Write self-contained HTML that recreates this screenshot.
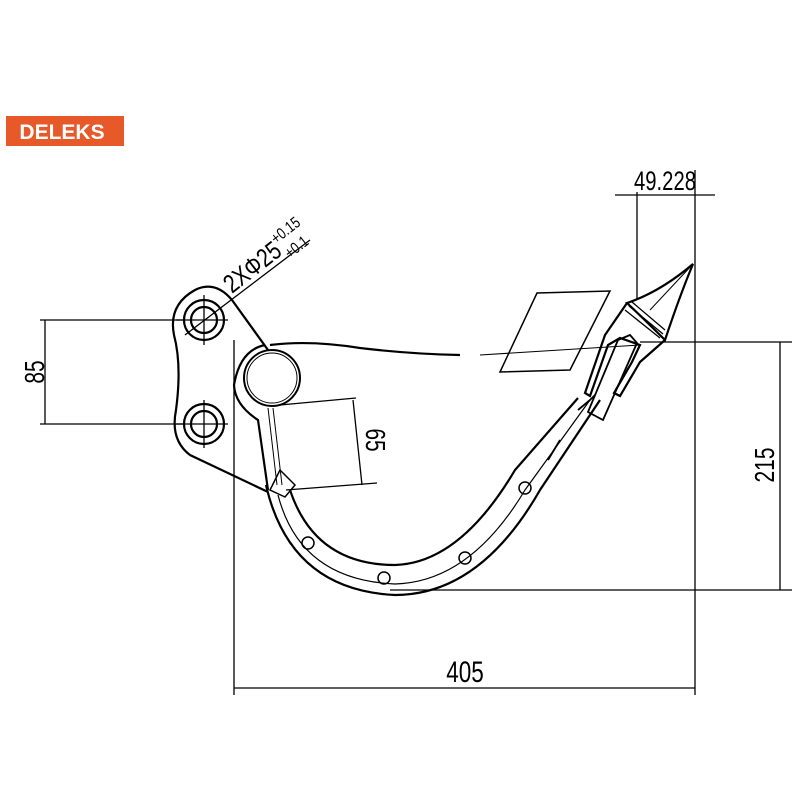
<!DOCTYPE html><html><head><style>body{margin:0;background:#fff}svg{display:block}</style></head><body>
<svg width="800" height="800" viewBox="0 0 800 800" xmlns="http://www.w3.org/2000/svg" font-family="Liberation Sans, sans-serif">
<rect x="6" y="116" width="118" height="30" fill="#e8592a"/>
<text x="62" y="139" font-size="21" font-weight="bold" fill="#fff" text-anchor="middle">DELEKS</text>
<g stroke="#000" fill="none" stroke-width="1.3">
<line x1="40" y1="320" x2="185" y2="320"/><line x1="40" y1="424" x2="185" y2="424"/><line x1="45" y1="320" x2="45" y2="424"/>
<line x1="204" y1="295" x2="204" y2="345"/><line x1="204" y1="400" x2="204" y2="448"/><line x1="176" y1="424" x2="228" y2="424"/><line x1="176" y1="320" x2="228" y2="320"/>
<line x1="234" y1="340" x2="234" y2="695"/><line x1="695" y1="170" x2="695" y2="695"/><line x1="234" y1="688" x2="695" y2="688"/>
<line x1="637" y1="192" x2="637" y2="300"/><line x1="615" y1="195" x2="715" y2="195"/>
<line x1="640" y1="342" x2="792" y2="342"/><line x1="390" y1="590" x2="792" y2="590"/><line x1="780" y1="342" x2="780" y2="590"/>
<line x1="185" y1="335" x2="310" y2="240"/>
<line x1="280" y1="405" x2="356" y2="398"/><line x1="286" y1="490" x2="377" y2="483"/><line x1="353" y1="400" x2="362" y2="485"/>
<polygon points="537,293 610,291 570,370 500,372" stroke-width="1.5"/>
<path d="M480,355 L640,345" stroke-width="1"/>
</g>
<g stroke="#000" fill="none" stroke-width="2.2">
<path d="M232,300 Q215,280 195,290 Q168,305 174,335 Q182,365 176,410 Q170,440 190,455 L268,492"/>
<path d="M232,300 L268,350"/>
<circle cx="204" cy="320" r="20"/><circle cx="204" cy="320" r="13"/>
<circle cx="204" cy="424" r="20"/><circle cx="204" cy="424" r="13"/>
<circle cx="272" cy="378" r="28" stroke-width="2"/><circle cx="272" cy="378" r="25" stroke-width="1"/>
<path d="M265,345 Q240,350 234,385 Q235,405 258,420 L268,490"/>
<path d="M270,345 Q310,340 360,348 Q410,354 460,355" />
<path d="M266,485 Q290,590 395,595 Q480,595 540,490 L600,400"/>
<path d="M290,490 Q315,565 395,565 Q460,563 515,470 L578,398"/>
<path d="M278,495 Q300,580 395,584 Q470,582 525,490 L590,400" stroke-width="1.2"/>
<path d="M280,470 L295,485 L285,497 L270,490 Z" stroke-width="1.5"/>
<path d="M268,408 L277,485 M273,408 L282,485" stroke-width="1"/>
<circle cx="308" cy="543" r="6" stroke-width="1.5"/><circle cx="384" cy="578" r="6" stroke-width="1.5"/>
<circle cx="465" cy="558" r="6" stroke-width="1.5"/><circle cx="525" cy="488" r="6" stroke-width="1.5"/>
<path d="M627,303 L605,335 L585,393 L590,396 L608,345 L620,338 L640,345 L632,362 L614,393 L620,396 L640,362 L665,340"/>
<path d="M618,340 L630,335 L637,343 L603,420 L588,412 Z" stroke-width="1.8"/>
<path d="M578,410 L590,400 L595,395 M560,440 L548,460" stroke-width="1.8"/>
<path d="M627,303 Q660,292 693,264 Q680,295 665,340 Q645,320 627,303 Z"/>
<path d="M625,310 L660,338 M632,302 L665,330 M629,306 L663,334" stroke-width="1.3"/>
<path d="M650,310 L693,264" stroke-width="1"/>
</g>
<g fill="#000">
<text transform="translate(665,190) scale(0.75,1)" text-anchor="middle" font-size="27">49.228</text>
<text transform="translate(465,682) scale(0.75,1)" text-anchor="middle" font-size="30">405</text>
<text transform="translate(44,372) rotate(-90) scale(0.75,1)" text-anchor="middle" font-size="28">85</text>
<text transform="translate(774,465) rotate(-90) scale(0.75,1)" text-anchor="middle" font-size="28">215</text>
<text transform="translate(366,440) rotate(90) scale(0.75,1)" text-anchor="middle" font-size="28">65</text>
<text transform="translate(232,294) rotate(-38) scale(0.8,1)" font-size="26">2XΦ25<tspan font-size="16" dy="-12">+0.15</tspan><tspan font-size="16" dx="-38" dy="20">+0.1</tspan></text>
</g>
</svg></body></html>
